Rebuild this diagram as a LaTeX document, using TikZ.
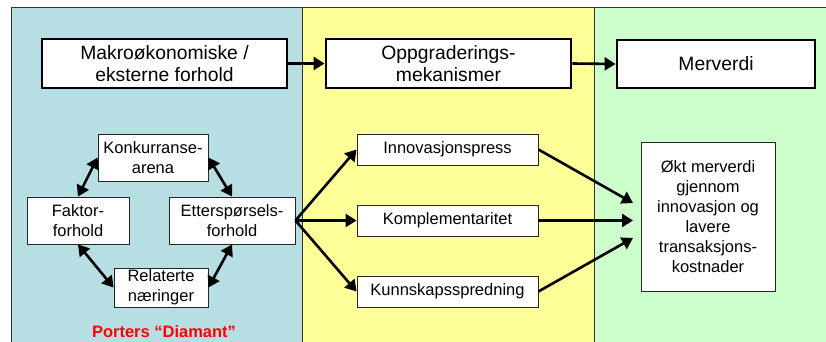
\documentclass[tikz,border=0pt]{standalone}
\usepackage{fontspec}
\setmainfont{Liberation Sans}
\usetikzlibrary{arrows.meta}
\definecolor{pblue}{RGB}{183,222,226}
\definecolor{pyellow}{RGB}{255,255,153}
\definecolor{pgreen}{RGB}{204,255,204}
\definecolor{frame}{RGB}{50,50,50}
\definecolor{pred}{RGB}{255,0,0}
\tikzset{
  bigbox/.style={draw=black, line width=2.8pt, fill=white, align=center, inner sep=0pt,
    font=\fontsize{19.3}{22}\selectfont},
  smallbox/.style={draw=black!85, line width=0.9pt, fill=white, align=center, inner sep=0pt,
    font=\fontsize{16.5}{20}\selectfont},
  arr/.style={line width=2.6pt, -{Triangle[length=11pt,width=13pt]}},
  darr/.style={line width=2.6pt, {Triangle[length=11pt,width=13pt]}-{Triangle[length=11pt,width=13pt]}},
}
\begin{document}
\begin{tikzpicture}[x=1pt,y=-1pt]
\useasboundingbox (0,0) rectangle (826,342);
\begin{scope}
\clip (0,0) rectangle (826,342);
\fill[pblue] (11,8) rectangle (302,350);
\fill[pyellow] (302,8) rectangle (594,350);
\fill[pgreen] (594,8) rectangle (830,350);
\draw[frame, line width=1pt] (11,350) -- (11,8) -- (830,8);
\draw[frame, line width=1pt] (302,8) -- (302,350);
\draw[frame, line width=1pt] (594,8) -- (594,350);
\end{scope}

% top row
\node[bigbox, minimum width=245pt, minimum height=49pt] (makro) at (164.5,63.5) {Makroøkonomiske /\\eksterne forhold};
\node[bigbox, minimum width=245pt, minimum height=49pt] (oppg) at (448.5,63.5) {Oppgraderings-\\mekanismer};
\node[bigbox, minimum width=198pt, minimum height=48pt] (merv) at (716,64) {Merverdi};
\draw[arr] (makro.east) -- (oppg.west);
\draw[arr] (oppg.east) -- (merv.west);

% diamond
\node[smallbox, minimum width=110pt, minimum height=47pt] (konk) at (153,157.5) {Konkurranse-\\arena};
\node[smallbox, minimum width=102pt, minimum height=47pt] (fakt) at (78,220.5) {Faktor-\\forhold};
\node[smallbox, minimum width=126pt, minimum height=47pt] (ett) at (232,220.5) {Etterspørsels-\\forhold};
\node[smallbox, minimum width=94pt, minimum height=39pt] (rel) at (161,287.5) {Relaterte\\næringer};
\node[text=pred, font=\fontsize{16.5}{20}\selectfont\bfseries] (porter) at (164,332) {Porters “Diamant”};
\draw[darr] (fakt.north) -- (konk.west);
\draw[darr] (konk.east) -- (ett.north);
\draw[darr] (fakt.south) -- (rel.west);
\draw[darr] (rel.east) -- (ett.south);

% middle
\node[smallbox, minimum width=181pt, minimum height=31pt] (innov) at (447.5,149.5) {Innovasjonspress};
\node[smallbox, minimum width=181pt, minimum height=31pt] (kompl) at (447.5,220.5) {Komplementaritet};
\node[smallbox, minimum width=181pt, minimum height=31pt] (kunn) at (447.5,291.5) {Kunnskapsspredning};
\draw[arr] (ett.east) -- (innov.west);
\draw[arr] (ett.east) -- (kompl.west);
\draw[arr] (ett.east) -- (kunn.west);

% right
\node[smallbox, minimum width=134pt, minimum height=149pt] (okt) at (708,216.5) {Økt merverdi\\gjennom\\innovasjon og\\lavere\\transaksjons-\\kostnader};
\coordinate (t1) at (633,203);
\coordinate (t2) at (633,220.5);
\coordinate (t3) at (633,238);
\draw[arr] (innov.east) -- (t1);
\draw[arr] (kompl.east) -- (t2);
\draw[arr] (kunn.east) -- (t3);
\end{tikzpicture}
\end{document}
